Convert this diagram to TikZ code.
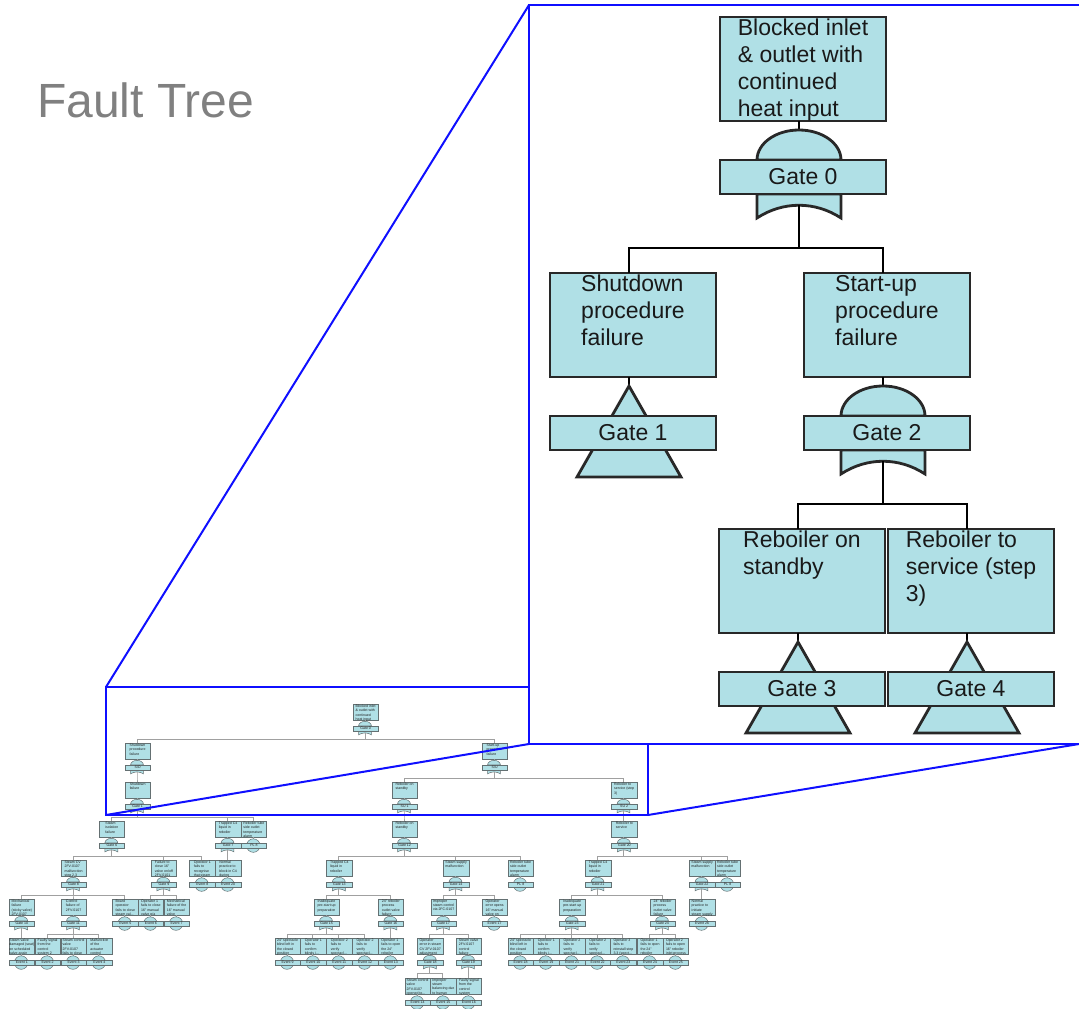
\documentclass[tikz,border=0pt]{standalone}
\usepackage{fontspec}
\setmainfont{Liberation Sans}

\definecolor{powder}{RGB}{176,224,230}
\definecolor{bigedge}{RGB}{40,40,40}
\definecolor{bigtext}{RGB}{25,25,25}
\definecolor{smalledge}{RGB}{100,112,114}
\definecolor{smalltext}{RGB}{30,30,30}
\definecolor{linkgray}{RGB}{160,160,160}
\definecolor{titlegray}{RGB}{128,128,128}
\definecolor{lensblue}{RGB}{15,15,255}

\tikzset{
  biglink/.style={draw=black, line width=2.4pt},
  smalllink/.style={draw=linkgray, line width=0.9pt},
  ftedge/.style={draw=bigedge, line width=2.8pt},
  ftlink/.style={biglink},
  fttextcol/.style={text=bigtext},
  fttop/.style={},
  % full-size units (the enlarged view)
  B/.style={ftedge/.style={draw=bigedge, line width=2.8pt},
            ftlink/.style={biglink}, fttextcol/.style={text=bigtext},
            fttop/.style={}},
  % miniature units (the overview tree)
  S/.style={scale=0.1536, transform shape,
            ftedge/.style={draw=smalledge, line width=0.5pt},
            ftlink/.style={smalllink}, fttextcol/.style={text=smalltext},
            fttop/.style={inner ysep=8pt}},
  ftbox/.style={rectangle, ftedge, fill=powder, minimum width=166pt,
                minimum height=104pt, inner sep=0pt, outer sep=0pt},
  fttext/.style={anchor=north, align=left, inner sep=2pt, fttop, fttextcol,
                 font=\fontsize{23}{27}\selectfont},
  ftlabel/.style={rectangle, ftedge, fill=powder, minimum width=166pt,
                  minimum height=34pt, inner sep=0pt, outer sep=0pt, fttextcol,
                  font=\fontsize{23}{27}\selectfont},
  ftgate/.style={ftedge, fill=powder},
  lens/.style={draw=lensblue, line width=2pt},
}

% event box with an AND gate below it; #3 = (gate x, top of box)
\newcommand\ftAnd[5]{%
  \begin{scope}[shift={#3},#1]
    \coordinate (#2-in) at (0,0);
    \coordinate (#2-bot) at (0,104);
    \coordinate (#2-out) at (0,188.25);
    \node[ftbox] (#2) at (4,52) {};
    \node[fttext] (#2-t) at (#2.north) {#4};
    \draw[ftlink] (#2-bot) -- (#2-out);
    \path[ftgate] (-42,143) .. controls (-42,126.4) and (-23.2,113) .. (0,113)
                  .. controls (23.2,113) and (42,126.4) .. (42,143) -- cycle;
    \path[ftgate] (-42,177) -- (-42,201) .. controls (-16,184) and (16,184) .. (42,201)
                  -- (42,177) -- cycle;
    \node[ftlabel] (#2-g) at (4,160) {#5};
  \end{scope}}

% event box with a transfer triangle below it
\newcommand\ftXfer[5]{%
  \begin{scope}[shift={#3},#1]
    \coordinate (#2-in) at (0,0);
    \coordinate (#2-bot) at (0,104);
    \coordinate (#2-apex) at (0,113);
    \node[ftbox] (#2) at (4,52) {};
    \node[fttext] (#2-t) at (#2.north) {#4};
    \draw[ftlink] (#2-bot) -- (#2-apex);
    \path[ftgate] (0,113) -- (52,204) -- (-52,204) -- cycle;
    \node[ftlabel] (#2-g) at (4,160) {#5};
  \end{scope}}

% event box with a basic-event circle below it
\newcommand\ftEvent[5]{%
  \begin{scope}[shift={#3},#1]
    \coordinate (#2-in) at (0,0);
    \coordinate (#2-bot) at (0,104);
    \coordinate (#2-c) at (0,160);
    \node[ftbox] (#2) at (4,52) {};
    \node[fttext] (#2-t) at (#2.north) {#4};
    \draw[ftlink] (#2-bot) -- (#2-c);
    \path[ftgate] (#2-c) circle[radius=44pt];
    \node[ftlabel] (#2-g) at (4,160) {#5};
  \end{scope}}

% gate output down to a bar, then into each child box
\newcommand\ftlinks[4]{%
  \foreach \kid in {#3}{\draw[#1] (#2-out) -- ++(0,#4) -| (\kid-in);}}

\begin{document}
\begin{tikzpicture}[x=1pt, y=-1pt]
\useasboundingbox (0,0) rectangle (1079,1009);

\node[font=\fontsize{48}{52}\selectfont, text=titlegray, anchor=base west,
      inner sep=0pt] (title) at (37,117) {Fault Tree};

% ---------------- overview tree ----------------
\ftAnd{S}{s0}{(365,704)}{Blocked inlet\\\& outlet with\\continued\\heat input}{Gate 0}
\ftAnd{S}{s1}{(137,743)}{Shutdown\\procedure\\failure}{S/D}
\ftAnd{S}{s2}{(494,743)}{Start-up\\procedure\\failure}{S/U}
\ftAnd{S}{s3}{(137,782)}{Shutdown\\failure}{Gate 1}
\ftAnd{S}{s4}{(404,782)}{Reboiler on\\standby}{SU 1}
\ftAnd{S}{s5}{(623.5,782)}{Reboiler to\\service (step\\3)}{SU 2}

\ftAnd{S}{s6}{(111.3,821)}{Steam\\isolation\\failure}{Gate 6}
\ftAnd{S}{s7}{(227.5,821)}{Trapped C4\\liquid in\\reboiler}{Gate 7}
\ftEvent{S}{s8}{(253.3,821)}{Reboiler tube\\side outlet\\temperature\\alarm}{PL 8}
\ftAnd{S}{s9}{(404,821)}{Reboiler on\\standby}{Gate 12}
\ftAnd{S}{s10}{(623.8,821)}{Reboiler to\\service}{Gate 20}

\ftAnd{S}{s11}{(73,860)}{Steam CV\\2FV-0107\\malfunction\\step 2.3}{Gate 8}
\ftAnd{S}{s12}{(163.3,860)}{Failure to\\close 16"\\valve on/off\\2FV-0101}{Gate 9}
\ftEvent{S}{s13}{(201.7,860)}{Operator 1\\fails to\\recognise\\that steam}{Event 8}
\ftEvent{S}{s14}{(227.5,860)}{Normal\\practice to\\block in C4\\during}{Event 20}
\ftAnd{S}{s15}{(338.8,860)}{Trapped C4\\liquid in\\reboiler}{Gate 13}
\ftAnd{S}{s16}{(455.5,860)}{Steam supply\\malfunction}{Gate 14}
\ftEvent{S}{s17}{(520,860)}{Reboiler tube\\side outlet\\temperature\\alarm}{PL 8}
\ftAnd{S}{s18}{(597.5,860)}{Trapped C4\\liquid in\\reboiler}{Gate 21}
\ftAnd{S}{s19}{(701.5,860)}{Steam supply\\malfunction}{Gate 22}
\ftEvent{S}{s20}{(727,860)}{Reboiler tube\\side outlet\\temperature\\alarm}{PL 8}

\ftAnd{S}{s21}{(21.2,899)}{Mechanical\\failure\\(sticky valve)\\2FV-0107}{Gate 10}
\ftAnd{S}{s22}{(73,899)}{Control\\failure of\\2FV-0107}{Gate 11}
\ftEvent{S}{s23}{(124.7,899)}{Board\\operator\\fails to close\\steam val...}{Event 5}
\ftEvent{S}{s24}{(150.3,899)}{Operator 1\\fails to close\\16" manual\\valve p/a}{Event 6}
\ftEvent{S}{s25}{(176,899)}{Mechanical\\failure of the\\16" manual\\valve}{Event 7}
\ftAnd{S}{s26}{(326,899)}{Inadequate\\pre-start up\\preparation}{Gate 15}
\ftAnd{S}{s27}{(390.3,899)}{24" reboiler\\process\\outlet valve\\failure}{Gate 16}
\ftAnd{S}{s28}{(443,899)}{Improper\\steam control\\via 2FC-0107}{Gate 17}
\ftEvent{S}{s29}{(494,899)}{Operator\\error opens\\16" manual\\valve on}{Event 17}
\ftAnd{S}{s30}{(571.7,899)}{Inadequate\\pre-start up\\preparation}{Gate 23}
\ftAnd{S}{s31}{(662,899)}{24" reboiler\\process\\outlet valve\\failure}{Gate 24}
\ftEvent{S}{s32}{(701.5,899)}{Normal\\practice to\\initiate\\steam supply}{Event 26}

\ftEvent{S}{s33}{(21.2,938)}{Steam valve\\damaged (seat)\\on scheduled\\valve again}{Event 1}
\ftEvent{S}{s34}{(47,938)}{Faulty signal\\from the\\control\\system 2}{Event 2}
\ftEvent{S}{s35}{(73,938)}{Steam control\\valve\\2FV-0107\\fails to close}{Event 3}
\ftEvent{S}{s36}{(98.8,938)}{Malfunction\\of the\\actuator\\control}{Event 4}
\ftEvent{S}{s37}{(287,938)}{24" spectacle\\blind left in\\the closed\\position}{Event 9}
\ftEvent{S}{s38}{(312.8,938)}{Operator 1\\fails to\\confirm\\blinds i...}{Event 10}
\ftEvent{S}{s39}{(338.7,938)}{Operator 2\\fails to\\verify\\spectacl...}{Event 11}
\ftEvent{S}{s40}{(364.5,938)}{Operator 2\\fails to\\verify\\spectacl...}{Event 12}
\ftEvent{S}{s41}{(390.3,938)}{Operator 1\\fails to open\\the 24"\\reboiler}{Event 13}
\ftAnd{S}{s42}{(429.8,938)}{Operator\\error in steam\\CV 2FV-0107\\adjustment}{Gate 18}
\ftAnd{S}{s43}{(468,938)}{Steam valve\\2FV-0107\\control\\failure}{Gate 19}
\ftEvent{S}{s44}{(520,938)}{24" spectacle\\blind left in\\the closed\\position}{Event 18}
\ftEvent{S}{s45}{(545.7,938)}{Operator 1\\fails to\\confirm\\blinds i...}{Event 19}
\ftEvent{S}{s46}{(571.4,938)}{Operator 2\\fails to\\verify\\spectacl...}{Event 21}
\ftEvent{S}{s47}{(597.1,938)}{Operator 2\\fails to\\verify\\spectacl...}{Event 22}
\ftEvent{S}{s48}{(622.8,938)}{Operator 3\\fails to\\reinstall step\\3.3 (spect...}{Event 23}
\ftEvent{S}{s49}{(649.5,938)}{Operator 1\\fails to open\\the 24"\\reboiler}{Event 24}
\ftEvent{S}{s50}{(675.3,938)}{Operator 2\\fails to open\\16" reboiler\\inlet process}{Event 25}

\ftEvent{S}{s51}{(417,978)}{Steam control\\valve\\2FV-0107\\opened to...}{Event 14}
\ftEvent{S}{s52}{(442.8,978)}{Improper\\steam\\balancing due\\to human}{Event 15}
\ftEvent{S}{s53}{(468.3,978)}{Faulty signal\\from the\\control\\system}{Event 16}

\ftlinks{smalllink}{s0}{s1,s2}{6.7}
\ftlinks{smalllink}{s1}{s3}{6.7}
\ftlinks{smalllink}{s2}{s4,s5}{6.7}
\ftlinks{smalllink}{s3}{s6,s7,s8}{6.7}
\ftlinks{smalllink}{s4}{s9}{6.7}
\ftlinks{smalllink}{s5}{s10}{6.7}
\ftlinks{smalllink}{s6}{s11,s12,s13}{6.7}
\ftlinks{smalllink}{s7}{s14}{6.7}
\ftlinks{smalllink}{s9}{s15,s16,s17}{6.7}
\ftlinks{smalllink}{s10}{s18,s19,s20}{6.7}
\ftlinks{smalllink}{s11}{s21,s22,s23}{6.7}
\ftlinks{smalllink}{s12}{s24,s25}{6.7}
\ftlinks{smalllink}{s15}{s26,s27}{6.7}
\ftlinks{smalllink}{s16}{s28,s29}{6.7}
\ftlinks{smalllink}{s18}{s30,s31}{6.7}
\ftlinks{smalllink}{s19}{s32}{6.7}
\ftlinks{smalllink}{s21}{s33}{6.7}
\ftlinks{smalllink}{s22}{s34,s35,s36}{6.7}
\ftlinks{smalllink}{s26}{s37,s38,s39,s40}{6.7}
\ftlinks{smalllink}{s27}{s41}{6.7}
\ftlinks{smalllink}{s28}{s42,s43}{6.7}
\ftlinks{smalllink}{s30}{s44,s45,s46,s47,s48}{6.7}
\ftlinks{smalllink}{s31}{s49,s50}{6.7}
\ftlinks{smalllink}{s42}{s51,s52}{6.7}
\ftlinks{smalllink}{s43}{s53}{6.7}

% ---------------- magnifier outline ----------------
\coordinate (zoomTL) at (106,687);
\coordinate (zoomBL) at (106,815);
\coordinate (zoomBR) at (648,815);
\coordinate (viewTL) at (529,5);
\coordinate (viewBL) at (529,744);
\coordinate (viewBR) at (1079,744);
\coordinate (viewFar) at (1090,744);
\draw[lens] (zoomTL) rectangle (zoomBR);
\draw[lens] (zoomTL) -- (viewTL);
\draw[lens] (zoomBL) -- (viewBL);
\draw[lens] (zoomBR) -- (viewBR);
\fill[white] (viewTL) rectangle (viewFar);
\draw[lens, line width=2.2pt] (viewTL) rectangle (viewFar);

% ---------------- enlarged view ----------------
\ftAnd{B}{b0}{(799,17)}{Blocked inlet\\\& outlet with\\continued\\heat input}{Gate 0}
\ftXfer{B}{b1}{(629,273)}{Shutdown\\procedure\\failure}{Gate 1}
\ftAnd{B}{b2}{(883,273)}{Start-up\\procedure\\failure}{Gate 2}
\ftXfer{B}{b3}{(798,529)}{Reboiler on\\standby}{Gate 3}
\ftXfer{B}{b4}{(967,529)}{Reboiler to\\service (step\\3)}{Gate 4}

\ftlinks{biglink}{b0}{b1,b2}{43}
\ftlinks{biglink}{b2}{b3,b4}{43}

\end{tikzpicture}
\end{document}
